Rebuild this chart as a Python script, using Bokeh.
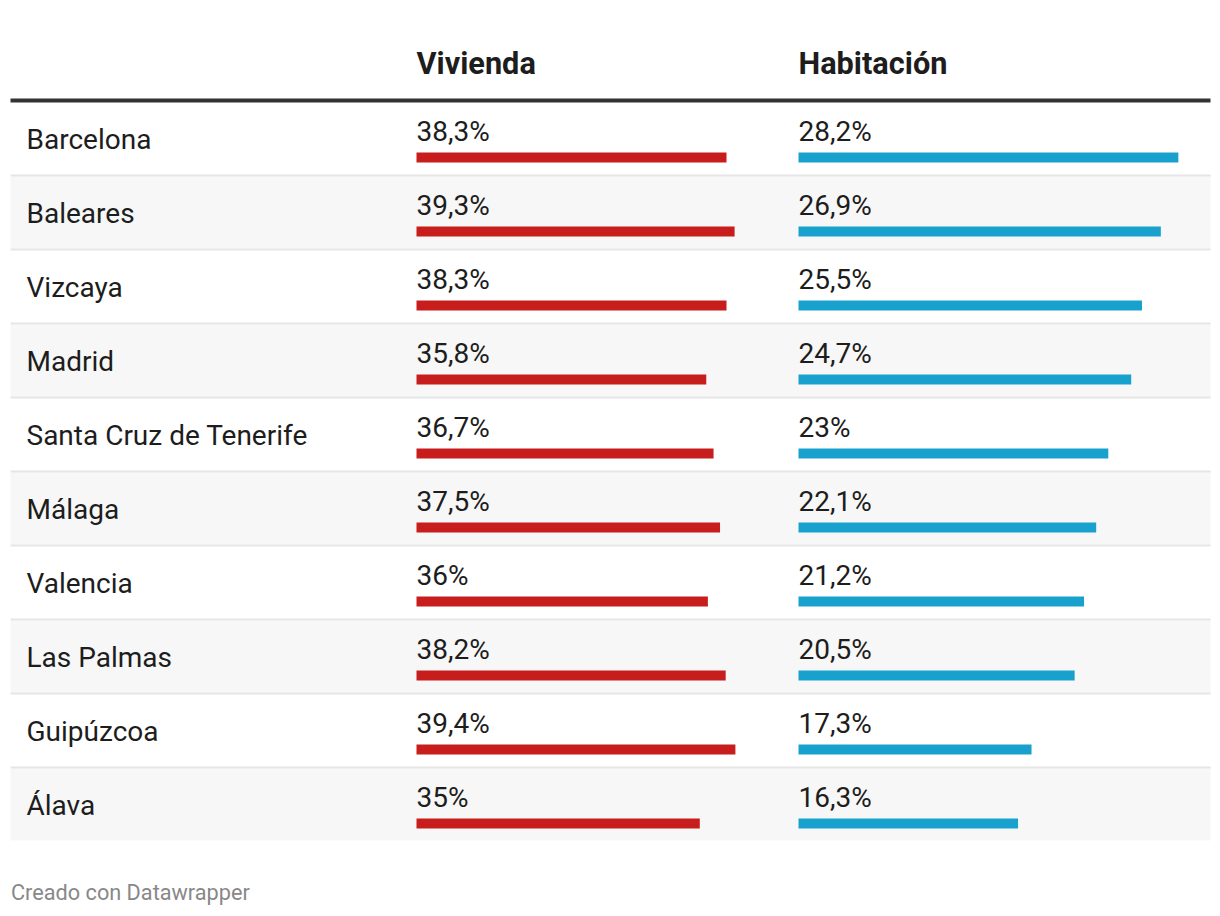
from bokeh.plotting import figure
from bokeh.models import Range1d, ColumnDataSource
from bokeh.core.properties import value
from bokeh.embed import file_html
from bokeh.resources import INLINE

# ---- data ----
cities = ["Barcelona", "Baleares", "Vizcaya", "Madrid", "Santa Cruz de Tenerife",
          "Málaga", "Valencia", "Las Palmas", "Guipúzcoa", "Álava"]
vivienda = [38.3, 39.3, 38.3, 35.8, 36.7, 37.5, 36.0, 38.2, 39.4, 35.0]
habitacion = [28.2, 26.9, 25.5, 24.7, 23.0, 22.1, 21.2, 20.5, 17.3, 16.3]
headers = ["Vivienda", "Habitación"]
footer = "Creado con Datawrapper"

# ---- layout constants (page pixels) ----
W, H = 1212, 908
TABLE_L, TABLE_R = 10, 1210
ROW_TOP0, ROW_H = 102, 74
VIV_X, HAB_X = 416, 798
VIV_K, HAB_K = 8.094, 13.47  # px per percentage point
FONT = "Roboto"
TXT = "#1d1d1d"

def fmt(v):
    s = ("%.1f" % v).rstrip("0").rstrip(".")
    return s.replace(".", ",") + "%"

p = figure(width=W, height=H, output_backend="svg", toolbar_location=None,
           x_range=Range1d(0, W), y_range=Range1d(H, 0),
           min_border=0, outline_line_color=None)
p.axis.visible = False
p.grid.visible = False
p.background_fill_color = "white"
p.border_fill_color = "white"

p.extra_x_ranges = {
    "viv": Range1d(-VIV_X / VIV_K, (W - VIV_X) / VIV_K),
    "hab": Range1d(-HAB_X / HAB_K, (W - HAB_X) / HAB_K),
}

n = len(cities)
tops = [ROW_TOP0 + ROW_H * i for i in range(n)]

# row backgrounds (alternate rows shaded)
bg_top = [t for i, t in enumerate(tops) if i % 2 == 1]
bg_bot = [t + ROW_H - 2 for i, t in enumerate(tops) if i % 2 == 1]
p.quad(left=TABLE_L, right=TABLE_R, top=bg_top, bottom=bg_bot,
       fill_color="#f7f7f7", line_color=None)

# separators
sep_y = [t + ROW_H - 1 for t in tops[:-1]]
p.segment(x0=TABLE_L, x1=TABLE_R, y0=sep_y, y1=sep_y, line_color="#e6e6e6", line_width=2)

# header rule
p.segment(x0=TABLE_L, x1=TABLE_R, y0=100, y1=100, line_color="#333333", line_width=4)

src = ColumnDataSource(dict(
    city=cities, viv=vivienda, hab=habitacion,
    viv_lab=[fmt(v) for v in vivienda], hab_lab=[fmt(v) for v in habitacion],
    bar_y=[t + 55 for t in tops],
    city_y=[t + 36.5 for t in tops],
    lab_y=[t + 28.5 for t in tops],
))

p.hbar(y="bar_y", left=0, right="viv", height=10, source=src, x_range_name="viv",
       fill_color="#c71e1d", line_color=None)
p.hbar(y="bar_y", left=0, right="hab", height=10, source=src, x_range_name="hab",
       fill_color="#18a1cd", line_color=None)

p.text(x=26, y="city_y", text="city", source=src, text_font=value(FONT),
       text_font_size="28px", text_color=TXT, text_baseline="alphabetic")
p.text(x=0, y="lab_y", text="viv_lab", source=src, x_range_name="viv",
       text_font=value(FONT), text_font_size="28px", text_color=TXT,
       text_baseline="alphabetic")
p.text(x=0, y="lab_y", text="hab_lab", source=src, x_range_name="hab",
       text_font=value(FONT), text_font_size="28px", text_color=TXT,
       text_baseline="alphabetic")

# headers
p.text(x=[0], y=[63], text=[headers[0]], x_range_name="viv", text_font=value(FONT),
       text_font_size="30.7px", text_font_style="bold", text_color=TXT,
       text_baseline="alphabetic")
p.text(x=[0], y=[63], text=[headers[1]], x_range_name="hab", text_font=value(FONT),
       text_font_size="30.7px", text_font_style="bold", text_color=TXT,
       text_baseline="alphabetic")

# footer
p.text(x=[10.5], y=[892], text=[footer], text_font=value(FONT), text_font_size="21.7px",
       text_color="#888888", text_baseline="alphabetic")

open("out.html", "w").write(file_html(p, INLINE))
